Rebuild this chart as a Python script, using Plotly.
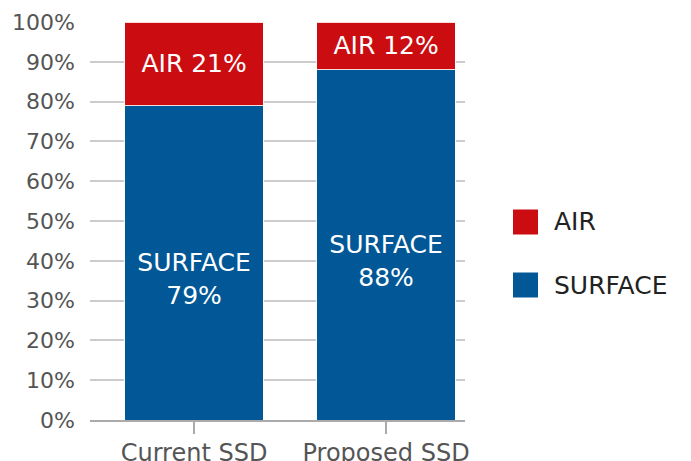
import plotly.graph_objects as go

categories = ['Current SSD', 'Proposed SSD']
surface = [79, 88]
air = [21, 12]
series_names = ['AIR', 'SURFACE']
colors = {'AIR': '#CB0C11', 'SURFACE': '#025897'}

fig = go.Figure()

# blank first line drops the label a little below the segment middle, as in the original
fig.add_trace(go.Bar(
    x=categories, y=surface, name='SURFACE',
    marker=dict(color=colors['SURFACE'], line=dict(color='rgba(255,255,255,0.85)', width=1)),
    text=[f'&nbsp;<br>SURFACE<br>{v}%' for v in surface],
    textposition='inside', insidetextanchor='middle',
    textfont=dict(color='white', size=25),
    width=0.72, showlegend=False,
))
fig.add_trace(go.Bar(
    x=categories, y=air, name='AIR',
    marker=dict(color=colors['AIR'], line=dict(color='rgba(255,255,255,0.85)', width=1)),
    text=[f'AIR {v}%' for v in air],
    textposition='inside', insidetextanchor='middle',
    textfont=dict(color='white', size=25),
    width=0.72, showlegend=False,
))

# legend drawn by hand so the swatches are the size of the original
legend_y = [222, 285]
for name, yc in zip(series_names, legend_y):
    fig.add_shape(type='rect', xref='paper', yref='paper',
                  x0=(513 - 90) / 375, x1=(538 - 90) / 375,
                  y0=(420 - yc - 12.5) / 398, y1=(420 - yc + 12.5) / 398,
                  fillcolor=colors[name], line=dict(width=0))
    fig.add_annotation(text=name, xref='paper', yref='paper',
                       x=(552 - 90) / 375, y=(420 - yc) / 398,
                       xanchor='left', yanchor='middle', showarrow=False,
                       font=dict(size=25, color='#222222'))

fig.update_layout(
    barmode='stack',
    width=691, height=461,
    margin=dict(l=82, r=234, t=14, b=49),
    plot_bgcolor='white', paper_bgcolor='white',
    font=dict(family='DejaVu Sans, sans-serif', color='#555555'),
)
fig.update_xaxes(
    range=[-0.542, 1.411], automargin=False,
    showline=True, linecolor='#aaaaaa', linewidth=1.5,
    ticks='outside', ticklen=12, tickcolor='#aaaaaa', tickwidth=1.5,
    tickfont=dict(size=24, color='#555555'),
    ticklabelstandoff=-2,
    showgrid=False,
)
fig.update_yaxes(
    range=[0, 100], dtick=10, ticksuffix='%', automargin=False,
    showgrid=True, gridcolor='#cccccc', gridwidth=1.5,
    zeroline=False,
    tickfont=dict(size=22, color='#555555'),
    ticklabelstandoff=14,
)

fig.write_html('out.html')
